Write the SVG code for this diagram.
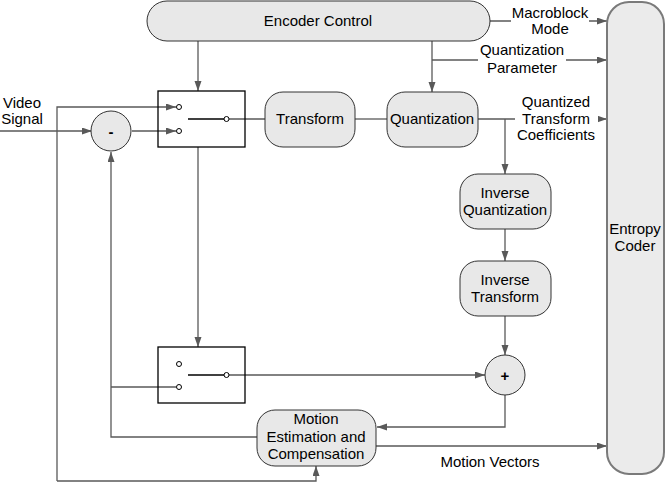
<svg xmlns="http://www.w3.org/2000/svg" width="666" height="482" viewBox="0 0 666 482">
<defs>
<marker id="ah" markerUnits="userSpaceOnUse" markerWidth="11" markerHeight="8" refX="10" refY="3.5" orient="auto"><path d="M0,0 L10,3.5 L0,7 z" fill="#595959"/></marker>
<style>
.box{fill:#e8e8e8;stroke:#333;stroke-width:1}
.ent{fill:#ebebeb;stroke:#7a7a7a;stroke-width:2}
.sw{fill:none;stroke:#000;stroke-width:1.3}
.ln{fill:none;stroke:#595959;stroke-width:1.3}
.arr{fill:none;stroke:#595959;stroke-width:1.3;marker-end:url(#ah)}
.pin{fill:#fff;stroke:#000;stroke-width:1}
.bl{stroke:#000;stroke-width:1.3}
text{font-family:"Liberation Sans",Arial,sans-serif;font-size:15px;fill:#000;text-anchor:middle}
</style>
</defs>
<rect width="666" height="482" fill="#fff"/>
<g id="connectors">
<path class="arr" d="M198,41 V91"/>
<path class="arr" d="M432,41 V92"/>
<path class="arr" d="M432,60 H607"/>
<path class="arr" d="M490,21 H607"/>
<path class="arr" d="M0,131 H92"/>
<path class="arr" d="M57,481 V107 H176"/>
<path class="arr" d="M57,481 H316 V466"/>
<path class="arr" d="M132,131 H176"/>
<path class="arr" d="M257,437 H111 V152"/>
<path class="ln" d="M111,387 H176"/>
<path class="ln" d="M229,119 H265"/>
<path class="ln" d="M355,119 H387"/>
<path class="arr" d="M478,119 H607"/>
<path class="arr" d="M505,119 V174"/>
<path class="arr" d="M505,229 V261"/>
<path class="arr" d="M505,316 V355"/>
<path class="arr" d="M198,147 V347"/>
<path class="arr" d="M229,375 H485"/>
<path class="arr" d="M505,395 V427 H377"/>
<path class="arr" d="M376,446 H607"/>
<rect x="511" y="4" width="78" height="34" fill="#fff"/>
<rect x="478" y="42" width="88" height="34" fill="#fff"/>
<rect x="515" y="93" width="83" height="50" fill="#fff"/>
</g>
<g id="encoder-control"><rect class="box" x="147" y="1" width="343" height="40" rx="20"/><text x="318" y="26">Encoder Control</text></g>
<g id="entropy-coder"><rect class="ent" x="607" y="2" width="57" height="472" rx="22"/><text x="635" y="234">Entropy</text><text x="635" y="251">Coder</text></g>
<g id="switch1"><rect class="sw" x="158" y="91" width="87" height="56"/><line class="bl" x1="188" y1="119" x2="224" y2="119"/><circle class="pin" cx="179" cy="107" r="2.5"/><circle class="pin" cx="179" cy="131" r="2.5"/><circle class="pin" cx="226.5" cy="119" r="2.5"/></g>
<g id="subtract"><circle class="box" cx="111" cy="131" r="20"/><text x="111" y="137" style="font-weight:bold">-</text></g>
<g id="transform"><rect class="box" x="265" y="92" width="90" height="55" rx="18"/><text x="310" y="124">Transform</text></g>
<g id="quantization"><rect class="box" x="387" y="92" width="91" height="55" rx="18"/><text x="432" y="124">Quantization</text></g>
<g id="inverse-quantization"><rect class="box" x="460" y="174" width="91" height="55" rx="18"/><text x="505" y="198">Inverse</text><text x="505" y="215">Quantization</text></g>
<g id="inverse-transform"><rect class="box" x="460" y="261" width="91" height="55" rx="18"/><text x="505" y="285">Inverse</text><text x="505" y="302">Transform</text></g>
<g id="switch2"><rect class="sw" x="158" y="347" width="87" height="56"/><line class="bl" x1="188" y1="375" x2="224" y2="375"/><circle class="pin" cx="179" cy="364" r="2.5"/><circle class="pin" cx="179" cy="387" r="2.5"/><circle class="pin" cx="226.5" cy="375" r="2.5"/></g>
<g id="add"><circle class="box" cx="505" cy="375" r="20"/><text x="505" y="381" style="font-weight:bold">+</text></g>
<g id="motion-estimation"><rect class="box" x="257" y="410" width="119" height="56" rx="18"/><text x="316" y="424">Motion</text><text x="316" y="442">Estimation and</text><text x="316" y="459">Compensation</text></g>
<g id="labels">
<text x="22" y="108">Video</text><text x="22" y="124">Signal</text>
<text x="550" y="18">Macroblock</text><text x="550" y="34">Mode</text>
<text x="522" y="55">Quantization</text><text x="522" y="73">Parameter</text>
<text x="556" y="107">Quantized</text><text x="556" y="124">Transform</text><text x="556" y="140">Coefficients</text>
<text x="490" y="467">Motion Vectors</text>
</g>
</svg>
